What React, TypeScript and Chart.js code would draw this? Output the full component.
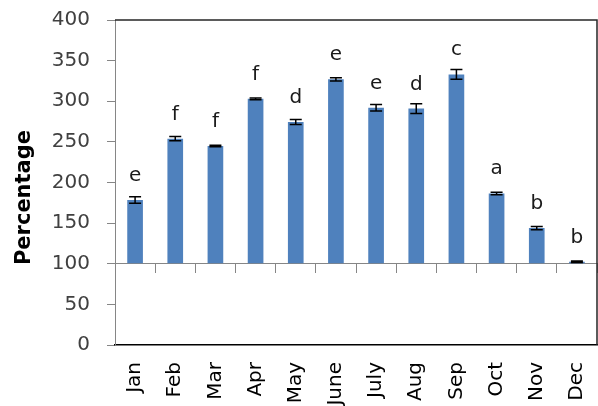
import { useEffect, useRef } from 'react'
import Chart from 'chart.js/auto'

const months = ['Jan', 'Feb', 'Mar', 'Apr', 'May', 'June', 'July', 'Aug', 'Sep', 'Oct', 'Nov', 'Dec']
const values = [178.5, 254, 245, 303, 274.5, 327, 292, 291, 333, 186.5, 144, 102.5]
const errors = [4, 2.5, 1, 1, 3, 2, 4, 6, 6, 1.5, 2, 1]
const letters = ['e', 'f', 'f', 'f', 'd', 'e', 'e', 'd', 'c', 'a', 'b', 'b']
const yTicks = [0, 50, 100, 150, 200, 250, 300, 350, 400]
const barBase = 100
const yTitle = 'Percentage'

const FONT = 'DejaVu Sans, sans-serif'

export default function App() {
  const canvasRef = useRef<HTMLCanvasElement>(null)
  const chartRef = useRef<Chart | null>(null)

  useEffect(() => {
    if (!canvasRef.current) return
    if (chartRef.current) chartRef.current.destroy()

    chartRef.current = new Chart(canvasRef.current, {
      type: 'bar',
      data: {
        labels: months,
        datasets: [
          {
            label: yTitle,
            data: values,
            base: barBase,
            xAxisID: 'x',
            backgroundColor: '#4f81bd',
            borderWidth: 0,
            barPercentage: 0.39,
            categoryPercentage: 1,
          },
        ],
      },
      options: {
        animation: false,
        responsive: true,
        maintainAspectRatio: false,
        layout: { padding: { top: 20, right: 1, bottom: 0, left: 0 } },
        plugins: {
          legend: { display: false },
          tooltip: { enabled: false },
        },
        scales: {
          x: {
            type: 'category',
            position: 'bottom',
            offset: true,
            grid: { display: false, drawTicks: false },
            border: { display: true, color: '#000', width: 1.5 },
            ticks: {
              minRotation: 90,
              maxRotation: 90,
              padding: 17,
              color: '#000',
              font: { family: FONT, size: 20 },
            },
            afterFit: (scale) => {
              scale.height = 61
              scale.paddingLeft = 0
              scale.paddingRight = 0
            },
          },
          xMid: {
            type: 'category',
            position: { y: barBase },
            offset: true,
            grid: { offset: true, drawOnChartArea: false, tickLength: 9, color: '#868686', lineWidth: 1 },
            border: { display: true, color: '#868686', width: 1 },
            ticks: { display: false },
          },
          y: {
            min: 0,
            max: 400,
            afterBuildTicks: (scale) => {
              scale.ticks = yTicks.map((v) => ({ value: v }))
            },
            afterFit: (scale) => {
              scale.width = 115
              scale.paddingTop = 0
              scale.paddingBottom = 0
            },
            grid: { drawOnChartArea: false, tickLength: 8, color: '#868686' },
            border: { display: true, color: '#868686', width: 1 },
            ticks: {
              padding: 17,
              color: '#404040',
              font: { family: FONT, size: 20 },
            },
          },
        },
      },
      plugins: [
        {
          id: 'boxAndErrors',
          afterDatasetsDraw: (chart) => {
            const ctx = chart.ctx
            const { left, top, right, bottom } = chart.chartArea
            const yScale = chart.scales.y
            ctx.save()
            // frame: top and right edges
            ctx.strokeStyle = '#262626'
            ctx.lineWidth = 1.5
            ctx.beginPath()
            ctx.moveTo(left, top)
            ctx.lineTo(right, top)
            ctx.lineTo(right, bottom)
            ctx.stroke()

            const meta = chart.getDatasetMeta(0)
            meta.data.forEach((bar, i) => {
              const x = bar.x
              const yHi = yScale.getPixelForValue(values[i] + errors[i])
              const yLo = yScale.getPixelForValue(values[i] - errors[i])
              ctx.strokeStyle = '#000'
              ctx.lineWidth = 1.5
              ctx.beginPath()
              ctx.moveTo(x, yHi)
              ctx.lineTo(x, yLo)
              ctx.moveTo(x - 6, yHi)
              ctx.lineTo(x + 6, yHi)
              ctx.moveTo(x - 6, yLo)
              ctx.lineTo(x + 6, yLo)
              ctx.stroke()

              ctx.fillStyle = '#1a1a1a'
              ctx.font = `20px ${FONT}`
              ctx.textAlign = 'center'
              ctx.textBaseline = 'alphabetic'
              ctx.fillText(letters[i], x, bar.y - 19)
            })

            // y axis title, sits a little below the plot centre as in the original
            ctx.translate(25, (top + bottom) / 2 + 15)
            ctx.rotate(-Math.PI / 2)
            ctx.fillStyle = '#000'
            ctx.font = `bold 21px ${FONT}`
            ctx.textAlign = 'center'
            ctx.textBaseline = 'middle'
            ctx.fillText(yTitle, 0, 0)
            ctx.restore()
          },
        },
      ],
    })

    return () => {
      if (chartRef.current) {
        chartRef.current.destroy()
        chartRef.current = null
      }
    }
  }, [])

  return (
    <div style={{ position: 'fixed', left: 0, top: 0, width: 598, height: 406, background: '#fff' }}>
      <canvas ref={canvasRef} />
    </div>
  )
}
